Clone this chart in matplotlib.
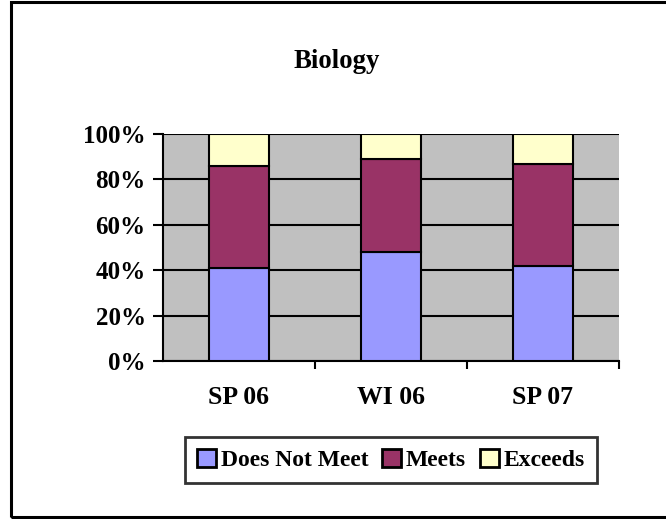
import matplotlib.pyplot as plt
from matplotlib.patches import Rectangle
import numpy as np

# data (percent of students)
terms = ['SP 06', 'WI 06', 'SP 07']
does_not_meet = [41, 48, 42]
meets = [45, 41, 45]
exceeds = [14, 11, 13]
series_names = ['Does Not Meet', 'Meets', 'Exceeds']
colors = ['#9999FF', '#993366', '#FFFFCC']

plt.rcParams['font.family'] = 'Liberation Serif'
plt.rcParams['font.weight'] = 'bold'

W, H = 666, 519
fig = plt.figure(figsize=(W / 100, H / 100), dpi=100)

# outer chart border (top, left, bottom; runs off the right side)
fig.patches.append(Rectangle((11 / W, 2 / H), 1.2, 515 / H, transform=fig.transFigure,
                             fill=False, edgecolor='black', lw=2.2))

ax = fig.add_axes([163 / W, 1 - 361 / H, 456 / W, 227 / H])
ax.set_facecolor('#C0C0C0')

x = np.arange(len(terms))
bottom = np.zeros(len(terms))
for vals, name, c in zip([does_not_meet, meets, exceeds], series_names, colors):
    ax.bar(x, vals, 0.39, bottom=bottom, color=c, edgecolor='black', lw=1.5,
           label=name, zorder=3)
    bottom += np.array(vals)

ax.set_xlim(-0.5, len(terms) - 0.5)
ax.set_ylim(0, 100)
ax.set_yticks(range(0, 101, 20))
ax.set_yticklabels([f'{v}%' for v in range(0, 101, 20)])
ax.yaxis.grid(True, color='black', lw=1.5, zorder=1)
ax.set_axisbelow(True)

# ticks between categories, labels at centers
ax.set_xticks(np.arange(0.5, len(terms)), minor=False)
ax.set_xticklabels([])
ax.set_xticks(x, minor=True)
ax.set_xticklabels(terms, minor=True)
ax.tick_params(axis='x', which='major', length=6, width=1.5, direction='out')
ax.tick_params(axis='x', which='minor', length=0, pad=18, labelsize=18.5)
ax.tick_params(axis='y', length=7, width=1.5, pad=5.5, labelsize=18)

for s in ['top', 'right']:
    ax.spines[s].set_visible(False)
for s in ['left', 'bottom']:
    ax.spines[s].set_linewidth(1.5)

fig.text(337 / W, 1 - 62 / H, 'Biology', ha='center', va='center', fontsize=19.3,
         fontweight='bold')

leg = fig.legend(loc='center', bbox_to_anchor=(391 / W, 1 - 460 / H), ncol=3,
                 fontsize=17, frameon=True, fancybox=False, edgecolor='black',
                 handlelength=0.8, handleheight=0.8, handletextpad=0.2,
                 columnspacing=0.6, borderpad=0.5)
leg.get_frame().set_linewidth(2)
for h in leg.legend_handles:
    h.set_linewidth(2)

fig.savefig('out.png', dpi=100)
